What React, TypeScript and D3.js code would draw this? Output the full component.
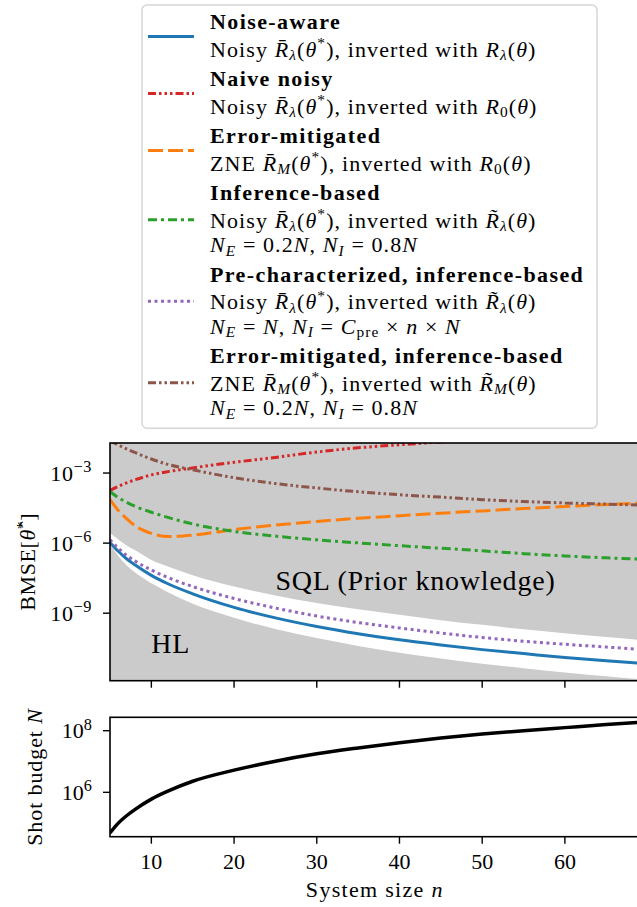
import * as d3 from "d3";

// system size n at which values were read
const nValues = [5, 6, 7, 8, 10, 12, 15, 20, 25, 30, 35, 40, 45, 50, 55, 60, 65, 70];

// log10 of BMSE for each curve
const noiseAware = [-5.97, -6.35, -6.67, -6.93, -7.38, -7.74, -8.17, -8.75, -9.2, -9.57, -9.88, -10.14, -10.36, -10.56, -10.73, -10.9, -11.04, -11.16];
const naiveNoisy = [-3.74, -3.57, -3.42, -3.29, -3.08, -2.94, -2.78, -2.54, -2.33, -2.1, -1.92, -1.79, -1.67, -1.56, -1.46, -1.36, -1.26, -1.16];
const errorMitigated = [-4.14, -4.6, -4.95, -5.25, -5.58, -5.72, -5.66, -5.42, -5.23, -5.07, -4.94, -4.83, -4.72, -4.62, -4.52, -4.43, -4.35, -4.27];
const inferenceBased = [-3.79, -4.05, -4.25, -4.42, -4.68, -4.9, -5.18, -5.5, -5.7, -5.86, -5.99, -6.11, -6.22, -6.33, -6.45, -6.55, -6.63, -6.7];
const preCharacterized = [-5.86, -6.22, -6.52, -6.76, -7.15, -7.47, -7.86, -8.37, -8.78, -9.12, -9.4, -9.63, -9.85, -10.04, -10.2, -10.33, -10.45, -10.57];
const mitigatedInference = [-1.62, -1.8, -1.97, -2.12, -2.4, -2.63, -2.86, -3.2, -3.45, -3.64, -3.8, -3.93, -4.03, -4.14, -4.22, -4.28, -4.33, -4.38];

// bounds of the white band (SQL above, HL below)
const sqlBound = [-5.57, -5.85, -6.1, -6.3, -6.72, -7.0, -7.38, -7.86, -8.24, -8.56, -8.83, -9.07, -9.3, -9.5, -9.69, -9.86, -10.02, -10.17];
const hlBound = [-6.05, -6.55, -6.95, -7.25, -7.72, -8.1, -8.6, -9.2, -9.68, -10.06, -10.4, -10.69, -10.94, -11.16, -11.36, -11.54, -11.7, -11.86];

// log10 of shot budget N
const shotBudget = [4.68, 5.0, 5.24, 5.44, 5.78, 6.04, 6.36, 6.72, 7.01, 7.25, 7.44, 7.61, 7.76, 7.89, 8.0, 8.1, 8.2, 8.29];

const xTicks = [10, 20, 30, 40, 50, 60];
const bmseTicks = [-3, -6, -9];
const shotTicks = [6, 8];

const FONT = "'Liberation Serif', 'DejaVu Serif', serif";
const GRAY = "#cbcbcb";

type Seg = { t: string; it?: boolean; sub?: boolean; sup?: boolean };
const T = (t: string): Seg => ({ t });
const I = (t: string): Seg => ({ t, it: true });
const Sub = (t: string, it = true): Seg => ({ t, sub: true, it });
const Sup = (t: string): Seg => ({ t, sup: true });

const noisyLam = [T("Noisy "), I("R\u0304"), Sub("λ"), T("("), I("θ"), Sup("*"), T("), inverted with ")];
const zneM = [T("ZNE "), I("R\u0304"), Sub("M"), T("("), I("θ"), Sup("*"), T("), inverted with ")];
const split = [I("N"), Sub("E"), T(" = 0.2"), I("N"), T(", "), I("N"), Sub("I"), T(" = 0.8"), I("N")];

const series = [
  { name: "Noise-aware", values: noiseAware, color: "#1f77b4", dash: "none",
    lines: [[...noisyLam, I("R"), Sub("λ"), T("("), I("θ"), T(")")]] },
  { name: "Naive noisy", values: naiveNoisy, color: "#d62728", dash: "8,3,2.5,3,2.5,3,2.5,3",
    lines: [[...noisyLam, I("R"), Sub("0", false), T("("), I("θ"), T(")")]] },
  { name: "Error-mitigated", values: errorMitigated, color: "#ff7f0e", dash: "15,5",
    lines: [[...zneM, I("R"), Sub("0", false), T("("), I("θ"), T(")")]] },
  { name: "Inference-based", values: inferenceBased, color: "#2ca02c", dash: "9,4,3,4",
    lines: [[...noisyLam, I("R\u0303"), Sub("λ"), T("("), I("θ"), T(")")], split] },
  { name: "Pre-characterized, inference-based", values: preCharacterized, color: "#9467bd", dash: "3,3.5",
    lines: [[...noisyLam, I("R\u0303"), Sub("λ"), T("("), I("θ"), T(")")],
      [I("N"), Sub("E"), T(" = "), I("N"), T(", "), I("N"), Sub("I"), T(" = "), I("C"), Sub("pre", false), T(" × "), I("n"), T(" × "), I("N")]] },
  { name: "Error-mitigated, inference-based", values: mitigatedInference, color: "#8c564b", dash: "8,3,2.5,3,2.5,3",
    lines: [[...zneM, I("R\u0303"), Sub("M"), T("("), I("θ"), T(")")], split] },
];

function MathText({ x, y, segs, size, anchor = "start", spacing = 0, supScale = 0.7, subShift = 0.24 }:
  { x: number; y: number; segs: Seg[]; size: number; anchor?: string; spacing?: number; supScale?: number; subShift?: number }) {
  let prev = 0;
  return (
    <text x={x} y={y} fontSize={size} textAnchor={anchor} fontFamily={FONT} letterSpacing={spacing}>
      {segs.map((s, i) => {
        const shift = s.sub ? size * subShift : s.sup ? -size * 0.38 : 0;
        const dy = shift - prev;
        prev = shift;
        return (
          <tspan key={i} dy={dy} fontStyle={s.it ? "italic" : "normal"}
            fontSize={s.sub || s.sup ? size * supScale : size}>{s.t}</tspan>
        );
      })}
    </text>
  );
}

export default function App() {
  const width = 637, height = 907;
  const left = 110, right = 647.6;
  const mainTop = 443, mainBottom = 680.7;
  const shotTop = 717.3, shotBottom = 836.7;

  const x = d3.scaleLinear().domain([5, 70]).range([left, right]);
  const yMain = d3.scaleLinear().domain([-11.89, -1.714]).range([mainBottom, mainTop]);
  const yShot = d3.scaleLinear().domain([4.56, 8.435]).range([shotBottom, shotTop]);

  const pts = (vals: number[]) => nValues.map((n, i) => [n, vals[i]] as [number, number]);
  const lineMain = d3.line<[number, number]>().x(d => x(d[0])).y(d => yMain(d[1])).curve(d3.curveMonotoneX);
  const lineShot = d3.line<[number, number]>().x(d => x(d[0])).y(d => yShot(d[1])).curve(d3.curveMonotoneX);
  const band = d3.area<number>()
    .x((_, i) => x(nValues[i]))
    .y0((_, i) => yMain(hlBound[i]))
    .y1((_, i) => yMain(sqlBound[i]))
    .curve(d3.curveMonotoneX);

  // legend layout
  const legFont = 22;
  const legLeft = 142, legRight = 597, legTop = 5, legBottom = 428.3;
  let cursor = 29.2;
  const legend = series.map((s) => {
    const title = cursor;
    const ys = [title];
    let y = title + 27.5;
    s.lines.forEach(() => { ys.push(y); y += 24.5; });
    const last = ys[ys.length - 1];
    cursor = last + 29.5;
    return { ...s, ys, handleY: (title + last) / 2 - 6.5 };
  });

  const tickLen = 7;

  return (
    <svg width={width} height={height} style={{ position: "absolute", left: 0, top: 0, background: "#fff" }}
      fontFamily={FONT}>
      <defs>
        <clipPath id="clipMain"><rect x={left} y={mainTop} width={right - left} height={mainBottom - mainTop} /></clipPath>
        <clipPath id="clipShot"><rect x={left} y={shotTop} width={right - left} height={shotBottom - shotTop} /></clipPath>
      </defs>

      {/* legend */}
      <rect x={legLeft} y={legTop} width={legRight - legLeft} height={legBottom - legTop} rx={5}
        fill="#fff" stroke="#d6d6d6" strokeWidth={1.5} />
      {legend.map((s) => (
        <g key={s.name}>
          <line x1={148} x2={194} y1={s.handleY} y2={s.handleY} stroke={s.color} strokeWidth={3}
            strokeDasharray={s.dash} />
          <text x={210} y={s.ys[0]} fontSize={legFont} fontWeight="bold" letterSpacing={1.4}>{s.name}</text>
          {s.lines.map((segs, k) => (
            <MathText key={k} x={210} y={s.ys[k + 1]} segs={segs} size={legFont} spacing={1.1} subShift={0.15} />
          ))}
        </g>
      ))}

      {/* main panel */}
      <rect x={left} y={mainTop} width={right - left} height={mainBottom - mainTop} fill={GRAY} />
      <g clipPath="url(#clipMain)">
        <path d={band(nValues) ?? ""} fill="#fff" />
        <text x={x(25)} y={yMain(-8.0)} fontSize={28} letterSpacing={0.8}>SQL (Prior knowledge)</text>
        <text x={x(10)} y={yMain(-10.7)} fontSize={28} letterSpacing={0.8}>HL</text>
        {series.map((s) => (
          <path key={s.name} d={lineMain(pts(s.values)) ?? ""} fill="none" stroke={s.color}
            strokeWidth={3} strokeDasharray={s.dash} />
        ))}
      </g>
      <rect x={left} y={mainTop} width={right - left} height={mainBottom - mainTop} fill="none" stroke="#000" strokeWidth={1.6} />
      {xTicks.map((t) => (
        <line key={t} x1={x(t)} x2={x(t)} y1={mainBottom} y2={mainBottom + tickLen} stroke="#000" strokeWidth={1.4} />
      ))}
      {bmseTicks.map((t) => (
        <g key={t}>
          <line x1={left - tickLen} x2={left} y1={yMain(t)} y2={yMain(t)} stroke="#000" strokeWidth={1.4} />
          <MathText x={92} y={yMain(t) + 7.5} size={22} anchor="end" supScale={0.74} spacing={0.6}
            segs={[T("10"), Sup("−" + Math.abs(t))]} />
        </g>
      ))}
      <g transform={`translate(35, ${(mainTop + mainBottom) / 2}) rotate(-90)`}>
        <MathText x={0} y={0} size={22} anchor="middle" spacing={0.6}
          segs={[T("BMSE["), I("θ\u0302"), Sup("*"), T("]")]} />
      </g>

      {/* shot budget panel */}
      <rect x={left} y={shotTop} width={right - left} height={shotBottom - shotTop} fill="#fff" />
      <g clipPath="url(#clipShot)">
        <path d={lineShot(pts(shotBudget)) ?? ""} fill="none" stroke="#000" strokeWidth={3.5} />
      </g>
      <rect x={left} y={shotTop} width={right - left} height={shotBottom - shotTop} fill="none" stroke="#000" strokeWidth={1.6} />
      {xTicks.map((t) => (
        <g key={t}>
          <line x1={x(t)} x2={x(t)} y1={shotBottom} y2={shotBottom + tickLen} stroke="#000" strokeWidth={1.4} />
          <text x={x(t)} y={869} fontSize={22} textAnchor="middle">{t}</text>
        </g>
      ))}
      {shotTicks.map((t) => (
        <g key={t}>
          <line x1={left - tickLen} x2={left} y1={yShot(t)} y2={yShot(t)} stroke="#000" strokeWidth={1.4} />
          <MathText x={92} y={yShot(t) + 7.5} size={22} anchor="end" supScale={0.74}
            segs={[T("10"), Sup(String(t))]} />
        </g>
      ))}
      <g transform={`translate(42, ${(shotTop + shotBottom) / 2}) rotate(-90)`}>
        <MathText x={0} y={0} size={22} anchor="middle" spacing={0.9} segs={[T("Shot budget "), I("N")]} />
      </g>
      <MathText x={(left + right) / 2 - 4} y={897} size={22} anchor="middle" spacing={1.3}
        segs={[T("System size "), I("n")]} />
    </svg>
  );
}
